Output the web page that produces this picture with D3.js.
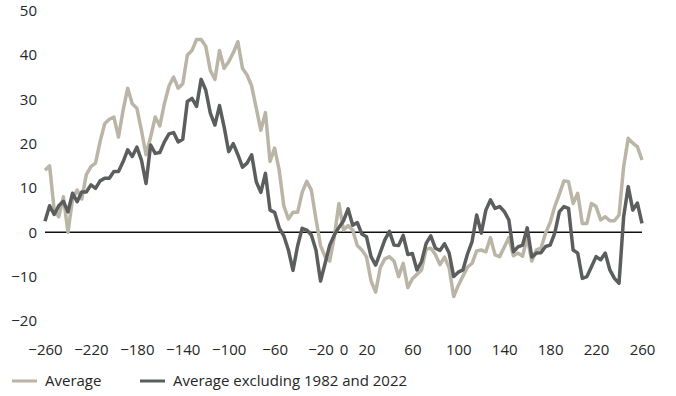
<!DOCTYPE html>
<html>
<head>
<meta charset="utf-8">
<script src="https://cdn.jsdelivr.net/npm/d3@7"></script>
<style>
  html, body { margin: 0; padding: 0; background: #fff; }
  svg { display: block; font-family: "Open Sans", "Noto Sans", sans-serif; }
</style>
</head>
<body>
<svg id="chart" width="676" height="396"></svg>
<script>
// Days relative to event (x axis)
const days = d3.range(-260, 261, 4);

// "Average" series
const averageValues = [
  14, 15, 5, 3.5, 8, 0, 7.5, 9.5, 7.5, 13, 14.8, 15.6, 20.5, 24.5, 25.5, 26,
  21.5, 27.5, 32.5, 29, 28, 23, 17.5, 21.5, 26, 24, 29, 33, 35, 32.5, 33.5, 40,
  41, 43.5, 43.5, 42, 36.5, 34.5, 41, 37, 38.5, 40.5, 43, 37, 35.5, 33, 28, 23,
  27, 16, 19, 14, 6, 3, 4.5, 4.5, 9, 11.5, 9.5, 3, -3, -5.5, -6.5, -1,
  6.5, 0.5, 1.5, 0.5, -3, -4, -5.5, -11, -13.5, -8, -6, -5.5, -6.5, -10, -7, -12.5,
  -10.5, -9.5, -8.5, -3.8, -3.6, -5, -7.3, -5.6, -8, -14.5, -12, -9.9, -7.9, -7, -4.2, -4,
  -4.4, -1.2, -5.1, -5.5, -3.4, -1.2, -5.3, -4.7, -5.4, -1.1, -6.5, -4, -3.6, -0.2, 2.2, 5.8,
  8.6, 11.6, 11.4, 6.5, 8.8, 2, 2, 6.5, 5.8, 2.8, 3.5, 2.6, 2.6, 3.9, 14.8, 21.2,
  20.1, 19.3, 16.3
];

// "Average excluding 1982 and 2022" series
const exclValues = [
  2.5, 6, 4, 6, 7, 4.6, 8.8, 6.9, 9.1, 9.1, 10.7, 9.9, 11.6, 12.2, 12.2, 13.7,
  13.7, 15.9, 18.6, 17.1, 19.2, 16.3, 11, 19.7, 17.8, 18, 20.4, 22.2, 22.5, 20.4, 21, 29.5,
  30.2, 28.4, 34.5, 32.1, 26.9, 24.2, 28.6, 23.8, 18.2, 20, 17.5, 14.7, 15.6, 17.5, 11.4, 9,
  13.3, 5, 4.5, 1, -0.8, -4, -8.6, -3.1, 0.9, 0.5, -0.6, -4, -11, -7, -2.9, -0.6,
  1.1, 2.6, 5.3, 1.6, 2.2, -0.4, -1, -5.5, -7.4, -4.6, -1.7, 0.2, -2.9, -3, -0.7, -5,
  -4.8, -8.5, -6.6, -2.5, -0.8, -3.6, -4.1, -2.6, -4.7, -10, -9, -8.5, -4.9, -2.1, 3.9, -0.2,
  5, 7.3, 5.4, 5.8, 4.7, 2.8, -4.4, -3.3, -2.9, 1, -5.6, -4.7, -4.6, -3.2, -2.9, -0.2,
  4.6, 5.8, 5.4, -4, -4.7, -10.4, -10, -7.8, -5.5, -6.2, -4.7, -8.5, -10.4, -11.5, 3.5, 10.3,
  5, 6.6, 2
];

const xTickValues = [-260, -220, -180, -140, -100, -60, -20, 0, 20, 60, 100, 140, 180, 220, 260];
const yTickValues = [-20, -10, 0, 10, 20, 30, 40, 50];

const seriesNames = ["Average", "Average excluding 1982 and 2022"];
const seriesColors = ["#bab5a6", "#5b5e5d"];

const svg = d3.select("#chart");
const x = d3.scaleLinear().domain([-260, 260]).range([45, 642]);
const y = d3.scaleLinear().domain([-20, 50]).range([320.9, 10.7]);

const fmt = v => (v < 0 ? "\u2212" + Math.abs(v) : String(v));
const FS = 15;

// Y axis labels
const yAxis = svg.append("g")
  .attr("transform", "translate(45,0)")
  .call(d3.axisLeft(y).tickValues(yTickValues).tickSize(0).tickPadding(8).tickFormat(fmt));
yAxis.select(".domain").remove();
yAxis.selectAll("text").attr("font-size", FS).attr("fill", "#262626")
  .attr("font-family", "'Open Sans', sans-serif");

// X axis labels
const xAxis = svg.append("g")
  .attr("transform", "translate(0,334)")
  .call(d3.axisBottom(x).tickValues(xTickValues).tickSize(0).tickPadding(10).tickFormat(fmt));
xAxis.select(".domain").remove();
xAxis.selectAll("text").attr("font-size", FS).attr("fill", "#262626")
  .attr("font-family", "'Open Sans', sans-serif");

// Zero line
svg.append("line")
  .attr("x1", x(-260)).attr("x2", x(260))
  .attr("y1", y(0)).attr("y2", y(0))
  .attr("stroke", "#111").attr("stroke-width", 1.3);

const line = d3.line().x((d, i) => x(days[i])).y(d => y(d));

const seriesData = [averageValues, exclValues];
seriesData.forEach((vals, k) => {
  svg.append("path")
    .datum(vals)
    .attr("d", line)
    .attr("fill", "none")
    .attr("stroke", seriesColors[k])
    .attr("stroke-width", 3.5)
    .attr("stroke-linejoin", "round")
    .attr("stroke-linecap", "butt");
});

// Legend
const legendItems = [
  { x: 12, name: seriesNames[0], color: seriesColors[0] },
  { x: 140, name: seriesNames[1], color: seriesColors[1] }
];
const lg = svg.append("g").attr("transform", "translate(0,381)");
legendItems.forEach(it => {
  lg.append("line").attr("x1", it.x).attr("x2", it.x + 25).attr("y1", 0).attr("y2", 0)
    .attr("stroke", it.color).attr("stroke-width", 3);
  lg.append("text").attr("x", it.x + 33).attr("y", 0).attr("dy", "0.35em")
    .attr("font-size", FS).attr("fill", "#262626").text(it.name);
});
</script>
</body>
</html>
